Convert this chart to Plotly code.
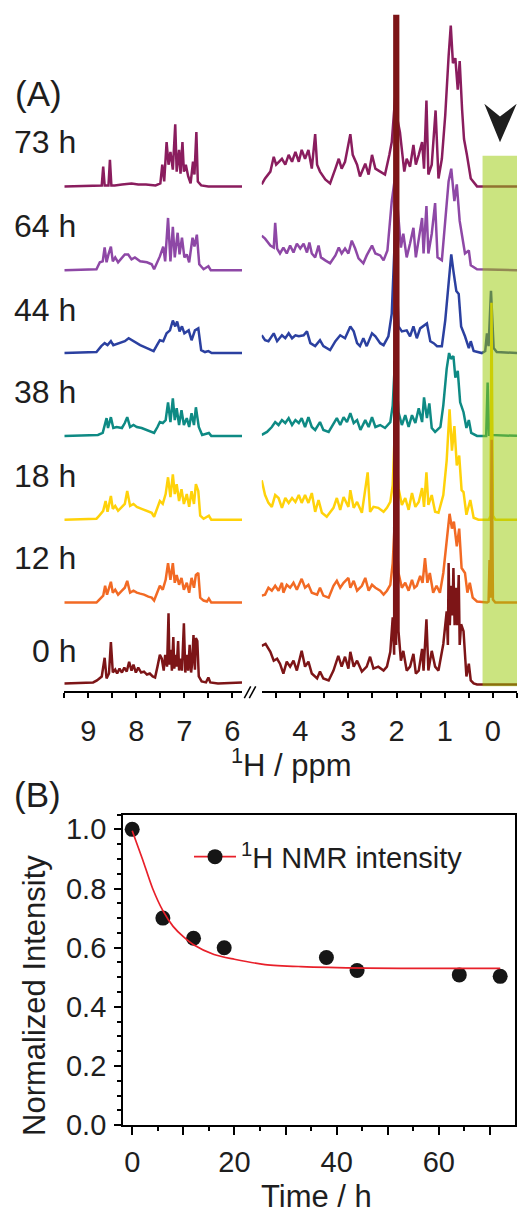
import plotly.graph_objects as go

W, H = 519, 1225

# ---------------- data: panel A (stacked 1H NMR spectra) ----------------
labels = ['0 h', '12 h', '18 h', '38 h', '44 h', '64 h', '73 h']
colors = ['#7d1517', '#f26a24', '#ffd20a', '#0e8a84', '#2b40a0', '#8e48a6', '#8a1d5e']
offsets = [0, 83, 167, 252, 336, 420, 505]  # vertical stacking of the traces

# (ppm, intensity), aromatic window 9.5-5.8 ppm
aro_0h = [(9.5,1),(8.9,2),(8.82,4),(8.72,8),(8.66,27),(8.62,6),(8.57,11),(8.53,43),(8.49,12),(8.44,15),(8.4,11),(8.35,16),(8.3,12),(8.25,17),(8.2,13),(8.15,23),(8.1,14),(8.06,20),(8.01,12),(7.96,17),(7.9,12),(7.84,13),(7.78,10),(7.72,11),(7.66,8),(7.61,7),(7.56,18),(7.51,30),(7.47,26),(7.43,14),(7.4,30),(7.36,18),(7.33,72),(7.31,20),(7.28,35),(7.26,14),(7.23,48),(7.21,16),(7.18,30),(7.16,18),(7.13,44),(7.11,14),(7.08,26),(7.05,14),(7.01,62),(6.98,12),(6.95,30),(6.92,14),(6.89,40),(6.86,12),(6.84,20),(6.81,50),(6.78,15),(6.76,47),(6.73,44),(6.7,8),(6.64,3),(6.55,2),(6.5,7),(6.46,2),(6.3,1),(5.8,2)]
aro_12h = [(9.5,0),(8.83,0),(8.79,2),(8.69,7),(8.65,17),(8.61,8),(8.53,21),(8.49,10),(8.44,13),(8.38,8),(8.3,12),(8.24,15),(8.19,22),(8.13,10),(8.06,12),(7.99,10),(7.92,9),(7.84,8),(7.75,6),(7.68,5),(7.63,2),(7.56,10),(7.51,17),(7.45,13),(7.39,23),(7.34,40),(7.29,23),(7.24,40),(7.2,20),(7.16,28),(7.11,18),(7.06,25),(7.01,13),(6.95,20),(6.9,10),(6.85,25),(6.8,15),(6.76,28),(6.71,30),(6.67,5),(6.6,2),(6.53,1),(6.49,4),(6.44,0),(5.8,0)]
aro_18h = [(9.5,0),(8.83,1),(8.79,3),(8.69,9),(8.64,19),(8.6,8),(8.53,24),(8.49,11),(8.44,14),(8.38,9),(8.3,13),(8.24,16),(8.19,29),(8.13,14),(8.06,16),(7.99,13),(7.89,11),(7.78,9),(7.68,7),(7.63,3),(7.56,13),(7.51,19),(7.45,16),(7.39,26),(7.34,43),(7.29,23),(7.24,46),(7.2,26),(7.16,36),(7.11,19),(7.06,31),(7.01,16),(6.95,26),(6.9,13),(6.85,29),(6.8,16),(6.76,36),(6.71,29),(6.67,4),(6.6,1),(6.49,4),(6.44,0),(5.8,0)]
aro_38h = [(9.5,0),(8.8,1),(8.7,3),(8.67,9),(8.62,18),(8.59,8),(8.53,19),(8.48,8),(8.41,9),(8.3,8),(8.24,13),(8.19,19),(8.13,9),(8.06,11),(7.99,9),(7.89,8),(7.78,6),(7.68,4),(7.63,3),(7.56,9),(7.51,14),(7.45,13),(7.39,16),(7.34,34),(7.29,14),(7.24,38),(7.2,16),(7.16,28),(7.11,11),(7.06,26),(7.01,11),(6.95,18),(6.9,9),(6.85,23),(6.8,11),(6.76,29),(6.7,9),(6.63,1),(6.49,3),(6.44,0),(5.8,0)]
aro_44h = [(9.5,0),(8.83,1),(8.73,7),(8.66,10),(8.6,8),(8.53,12),(8.48,8),(8.38,10),(8.24,12),(8.16,15),(8.06,12),(7.92,8),(7.78,5),(7.64,2),(7.57,8),(7.51,13),(7.44,12),(7.37,20),(7.3,23),(7.24,33),(7.19,27),(7.15,32),(7.1,22),(7.05,27),(7.0,20),(6.91,23),(6.85,13),(6.78,23),(6.71,25),(6.65,3),(6.57,1),(6.5,2),(6.43,0),(5.8,0)]
aro_64h = [(9.5,0),(8.83,1),(8.76,8),(8.7,9),(8.66,23),(8.62,8),(8.58,16),(8.53,24),(8.49,9),(8.44,13),(8.38,8),(8.3,13),(8.24,16),(8.17,16),(8.1,11),(8.03,13),(7.92,9),(7.78,8),(7.68,6),(7.63,1),(7.56,8),(7.51,14),(7.44,24),(7.4,9),(7.34,53),(7.29,9),(7.24,44),(7.2,13),(7.14,38),(7.1,16),(7.05,33),(7.0,13),(6.95,16),(6.9,8),(6.83,33),(6.79,24),(6.74,36),(6.69,6),(6.6,1),(6.5,4),(6.45,0),(5.8,0)]
aro_73h = [(9.5,0),(8.72,1),(8.69,20),(8.66,1),(8.58,1),(8.55,27),(8.52,1),(8.45,1),(8.3,2),(8.1,3),(7.96,2),(7.8,2),(7.6,1),(7.5,3),(7.46,22),(7.42,5),(7.37,45),(7.33,22),(7.29,35),(7.24,17),(7.19,63),(7.16,15),(7.11,37),(7.08,13),(7.04,45),(7.01,15),(6.97,22),(6.92,10),(6.87,3),(6.82,25),(6.79,12),(6.75,55),(6.72,5),(6.65,1),(6.5,0),(5.8,0)]

# (ppm, intensity) aliphatic window 4.8 to -0.5 ppm
ali_0h = [(4.8,39),(4.72,41),(4.62,33),(4.55,24),(4.48,26),(4.42,21),(4.35,11),(4.28,23),(4.21,18),(4.14,24),(4.07,14),(3.97,34),(3.9,18),(3.83,23),(3.76,11),(3.65,6),(3.59,13),(3.52,6),(3.41,4),(3.31,14),(3.21,29),(3.14,18),(3.07,28),(3.0,16),(2.96,33),(2.89,18),(2.82,24),(2.72,13),(2.62,18),(2.55,28),(2.48,16),(2.38,18),(2.27,14),(2.2,18),(2.13,33),(2.08,68),(2.05,30),(2.035,2000),(2.01,2000),(2.01,40),(2.01,2000),(1.985,2000),(1.96,54),(1.91,24),(1.86,34),(1.79,14),(1.72,18),(1.65,31),(1.6,11),(1.54,14),(1.47,36),(1.44,14),(1.38,66),(1.34,14),(1.27,34),(1.2,18),(1.13,14),(1.03,41),(0.96,74),(0.935,40),(0.92,123),(0.895,60),(0.865,100),(0.84,70),(0.82,118),(0.795,60),(0.77,98),(0.74,60),(0.71,111),(0.69,40),(0.66,61),(0.61,54),(0.55,8),(0.5,21),(0.46,4),(0.4,1),(0.33,0),(-0.5,0)]
ali_12h = [(4.8,7),(4.73,8),(4.66,15),(4.59,12),(4.52,17),(4.45,12),(4.38,20),(4.35,10),(4.28,18),(4.21,15),(4.14,20),(4.07,13),(3.97,24),(3.9,15),(3.83,18),(3.76,10),(3.65,8),(3.59,15),(3.52,7),(3.41,5),(3.31,17),(3.24,22),(3.17,15),(3.1,20),(3.0,25),(2.96,15),(2.89,22),(2.82,12),(2.72,17),(2.65,25),(2.58,12),(2.51,18),(2.44,15),(2.34,12),(2.27,8),(2.2,12),(2.13,18),(2.08,40),(2.03,90),(1.96,30),(1.89,15),(1.82,20),(1.75,12),(1.68,23),(1.63,15),(1.58,17),(1.51,27),(1.46,20),(1.41,45),(1.36,20),(1.31,30),(1.24,10),(1.17,17),(1.1,10),(1.03,30),(0.96,63),(0.9,90),(0.85,75),(0.81,82),(0.75,57),(0.7,75),(0.65,35),(0.58,30),(0.53,10),(0.48,20),(0.42,5),(0.33,1),(0.12,0),(0.09,1),(0.07,43),(0.05,5),(0.025,165),(0.0,3),(-0.05,0),(-0.5,0)]
ali_18h = [(4.8,40),(4.73,25),(4.66,17),(4.59,13),(4.52,25),(4.45,22),(4.38,12),(4.31,22),(4.24,17),(4.17,22),(4.1,18),(4.03,25),(3.97,17),(3.9,25),(3.83,17),(3.76,27),(3.69,8),(3.62,20),(3.55,7),(3.45,3),(3.31,12),(3.24,22),(3.17,10),(3.1,23),(3.0,13),(2.96,30),(2.89,12),(2.82,18),(2.72,7),(2.6,48),(2.55,8),(2.48,13),(2.38,12),(2.27,8),(2.2,12),(2.13,18),(2.08,35),(2.03,100),(1.96,32),(1.89,15),(1.82,22),(1.75,10),(1.68,27),(1.61,13),(1.54,18),(1.47,32),(1.43,13),(1.38,48),(1.34,15),(1.27,25),(1.2,8),(1.13,7),(1.03,25),(0.96,60),(0.9,112),(0.85,70),(0.8,95),(0.75,55),(0.7,65),(0.65,30),(0.61,28),(0.55,5),(0.47,20),(0.4,2),(0.3,0),(0.08,0),(0.05,4),(0.03,220),(0.0,4),(-0.05,0),(-0.5,0)]
ali_38h = [(4.8,1),(4.69,4),(4.59,9),(4.52,14),(4.45,11),(4.38,16),(4.31,13),(4.24,18),(4.17,11),(4.1,16),(4.03,13),(3.97,18),(3.9,9),(3.83,19),(3.76,9),(3.69,6),(3.59,14),(3.52,6),(3.41,4),(3.31,13),(3.24,18),(3.17,11),(3.1,19),(3.03,14),(2.96,23),(2.89,13),(2.82,16),(2.75,6),(2.65,16),(2.58,9),(2.51,19),(2.44,9),(2.34,11),(2.24,8),(2.13,14),(2.08,31),(2.03,80),(1.96,24),(1.89,11),(1.82,21),(1.75,9),(1.68,21),(1.61,13),(1.54,28),(1.47,14),(1.43,39),(1.37,18),(1.32,33),(1.27,8),(1.2,4),(1.09,9),(1.03,31),(0.96,68),(0.91,84),(0.87,78),(0.82,81),(0.78,59),(0.73,66),(0.68,34),(0.61,24),(0.55,8),(0.5,16),(0.45,3),(0.33,0),(0.14,0),(0.11,54),(0.08,1),(-0.5,0)]
ali_44h = [(4.8,18),(4.73,13),(4.66,12),(4.55,20),(4.48,12),(4.38,18),(4.31,15),(4.24,20),(4.17,15),(4.1,18),(4.03,17),(3.93,18),(3.86,22),(3.79,10),(3.69,7),(3.59,13),(3.52,7),(3.38,3),(3.27,12),(3.17,18),(3.07,15),(2.96,27),(2.89,22),(2.82,10),(2.76,7),(2.69,15),(2.62,7),(2.51,20),(2.44,17),(2.34,10),(2.27,8),(2.17,17),(2.1,40),(2.03,124),(1.96,27),(1.89,22),(1.79,23),(1.72,17),(1.65,27),(1.58,15),(1.51,25),(1.44,28),(1.37,30),(1.3,12),(1.23,10),(1.16,7),(1.06,7),(0.99,33),(0.92,70),(0.865,100),(0.82,83),(0.76,63),(0.71,60),(0.66,27),(0.58,17),(0.5,5),(0.46,12),(0.4,2),(0.23,0),(0.16,2),(0.124,20),(0.09,7),(0.04,63),(-0.015,5),(-0.08,1),(-0.5,0)]
ali_64h = [(4.8,35),(4.73,32),(4.62,25),(4.55,23),(4.52,48),(4.48,22),(4.42,17),(4.35,23),(4.28,17),(4.21,25),(4.14,18),(4.07,27),(4.0,22),(3.93,27),(3.86,18),(3.81,28),(3.76,17),(3.69,13),(3.62,25),(3.57,13),(3.48,10),(3.38,7),(3.27,15),(3.2,23),(3.14,17),(3.07,22),(3.0,17),(2.93,30),(2.86,22),(2.79,12),(2.69,7),(2.62,15),(2.51,25),(2.44,17),(2.34,15),(2.27,10),(2.19,20),(2.13,50),(2.1,70),(2.03,95),(1.96,57),(1.91,23),(1.86,37),(1.79,13),(1.72,27),(1.65,43),(1.6,13),(1.54,30),(1.47,53),(1.44,17),(1.38,65),(1.34,17),(1.27,37),(1.2,68),(1.15,13),(1.06,10),(0.99,50),(0.92,90),(0.865,103),(0.8,70),(0.75,87),(0.69,50),(0.64,35),(0.58,17),(0.5,20),(0.46,5),(0.33,1),(-0.5,0)]
ali_73h = [(4.8,2),(4.73,8),(4.62,15),(4.55,30),(4.5,22),(4.45,25),(4.38,28),(4.31,22),(4.24,32),(4.17,25),(4.1,35),(4.03,25),(3.97,37),(3.9,28),(3.83,37),(3.76,18),(3.69,53),(3.65,22),(3.59,15),(3.48,7),(3.38,3),(3.27,18),(3.2,28),(3.14,18),(3.07,25),(2.96,53),(2.91,32),(2.82,22),(2.76,10),(2.65,23),(2.58,12),(2.51,32),(2.44,18),(2.34,15),(2.24,12),(2.15,32),(2.1,45),(2.03,90),(1.99,70),(1.93,55),(1.88,35),(1.84,15),(1.79,28),(1.72,20),(1.65,42),(1.6,22),(1.54,32),(1.47,45),(1.43,18),(1.38,87),(1.34,12),(1.27,22),(1.19,77),(1.13,8),(1.06,28),(0.99,72),(0.92,132),(0.875,163),(0.83,125),(0.78,130),(0.73,98),(0.69,127),(0.64,78),(0.6,48),(0.54,32),(0.49,18),(0.46,8),(0.33,0),(-0.5,0)]

aromatic = [aro_0h, aro_12h, aro_18h, aro_38h, aro_44h, aro_64h, aro_73h]
aliphatic = [ali_0h, ali_12h, ali_18h, ali_38h, ali_44h, ali_64h, ali_73h]

# ---------------- data: panel B ----------------
time_h = [0, 6, 12, 18, 38, 44, 64, 72]
intensity = [1.0, 0.70, 0.632, 0.60, 0.567, 0.523, 0.508, 0.503]
fit_t = [0, 2, 4, 6, 8, 10, 12, 16, 20, 26, 33, 46, 59, 72]
fit_v = [0.995, 0.90, 0.80, 0.725, 0.672, 0.637, 0.61, 0.577, 0.561, 0.543, 0.536, 0.531, 0.53, 0.53]
time_ticks = [0, 10, 20, 30, 40, 50, 60, 70]
time_labels = [0, 20, 40, 60]

FONT = 'Liberation Sans, Arial, sans-serif'
TXT = '#1e1e1e'

def pxx(p):
    return p / W

def pxy(p):
    return 1 - p / H

fig = go.Figure()

for i in range(len(labels) - 1, -1, -1):
    for seg, xa in ((aromatic[i], 'x'), (aliphatic[i], 'x2')):
        fig.add_trace(go.Scatter(
            x=[p for p, _ in seg], y=[v + offsets[i] for _, v in seg],
            mode='lines', line=dict(color=colors[i], width=2.5),
            xaxis=xa, yaxis='y', showlegend=False, hoverinfo='skip'))

fig.add_trace(go.Scatter(x=time_h, y=intensity, mode='markers',
                         marker=dict(size=15, color='#161616'),
                         xaxis='x3', yaxis='y3', showlegend=False))
fig.add_trace(go.Scatter(x=fit_t, y=fit_v, mode='lines',
                         line=dict(color='#e8202a', width=1.7, shape='spline', smoothing=0.8),
                         xaxis='x3', yaxis='y3', showlegend=False))
fig.add_trace(go.Scatter(x=[None], y=[None], mode='lines+markers',
                         marker=dict(size=15, color='#161616'),
                         line=dict(color='#e8202a', width=1.7),
                         name='<sup>1</sup>H NMR intensity',
                         xaxis='x3', yaxis='y3', showlegend=True))

tick_common = dict(showline=True, linecolor='black', ticks='outside', tickcolor='black',
                   showgrid=False, zeroline=False,
                   tickfont=dict(size=29, color=TXT, family=FONT))

fig.update_layout(
    width=W, height=H, margin=dict(l=0, r=0, t=0, b=0),
    paper_bgcolor='white', plot_bgcolor='rgba(0,0,0,0)',
    font=dict(family=FONT, color=TXT),
    xaxis=dict(domain=[pxx(64.3), pxx(242)], range=[9.5, 5.8], anchor='y',
               linewidth=2, ticklen=5, tickwidth=1.5, dtick=1, tick0=0, ticklabelstandoff=8,
               minor=dict(dtick=0.5, tick0=0, ticks='outside', ticklen=5, tickwidth=1.5, tickcolor='black'),
               **tick_common),
    xaxis2=dict(domain=[pxx(261.7), pxx(517)], range=[4.8, -0.5], anchor='y',
                linewidth=2, ticklen=5, tickwidth=1.5, dtick=1, tick0=0, ticklabelstandoff=8,
                minor=dict(dtick=0.5, tick0=0, ticks='outside', ticklen=5, tickwidth=1.5, tickcolor='black'),
                **tick_common),
    yaxis=dict(domain=[pxy(700), pxy(14)], range=[-7, 679], visible=False),
    xaxis3=dict(domain=[pxx(123), pxx(515)], range=[-1.8, 74.9], anchor='y3',
                linewidth=1.8, mirror=True, ticklen=8, tickwidth=1.5,
                tickmode='array', tickvals=time_ticks, showticklabels=False,
                minor=dict(tickmode='array', tickvals=[5, 15, 25, 35, 45, 55, 65],
                           ticks='outside', ticklen=4, tickwidth=1.5, tickcolor='black'),
                **tick_common),
    xaxis4=dict(domain=[pxx(123), pxx(515)], range=[-1.8, 74.9], anchor='y3', overlaying='x3',
                showline=False, showgrid=False, zeroline=False, ticks='outside', ticklen=8,
                tickcolor='rgba(0,0,0,0)', tickmode='array', tickvals=time_labels,
                ticklabelstandoff=3, tickfont=dict(size=29, color=TXT, family=FONT)),
    yaxis3=dict(domain=[pxy(1140), pxy(825)], range=[0, 1.05], anchor='x3',
                linewidth=1.8, mirror=True, ticklen=7, tickwidth=1.5,
                dtick=0.2, tick0=0, tickformat='.1f', ticklabelstandoff=2,
                minor=dict(dtick=0.05, tick0=0, ticks='outside', ticklen=4, tickwidth=1.5, tickcolor='black'),
                **tick_common),
    legend=dict(x=pxx(189), y=pxy(842), xanchor='left', yanchor='top', itemwidth=42,
                bgcolor='rgba(0,0,0,0)', font=dict(size=29, color=TXT, family=FONT)),
)

# invisible anchor trace so the label-only overlay axis is drawn
fig.add_trace(go.Scatter(x=[None], y=[None], xaxis='x4', yaxis='y3', showlegend=False, hoverinfo='skip'))

shapes = [
    # highlighted TMS window
    dict(type='rect', xref='x2', yref='paper', x0=0.215, x1=-0.5, y0=pxy(695), y1=pxy(157),
         fillcolor='rgba(151,201,1,0.5)', line=dict(width=0), layer='above'),
    # arrowhead
    dict(type='path', xref='paper', yref='paper',
         path='M {:.5f},{:.5f} L {:.5f},{:.5f} L {:.5f},{:.5f} L {:.5f},{:.5f} Z'.format(
             pxx(484.3), pxy(104.3), pxx(500), pxy(117), pxx(516.7), pxy(104.3), pxx(500), pxy(143.3)),
         fillcolor='#1e1e1e', line=dict(width=0)),
    # axis break marks
    dict(type='line', xref='paper', yref='paper', x0=pxx(244.3), y0=pxy(707), x1=pxx(250.7), y1=pxy(695),
         line=dict(color='black', width=1.5)),
    dict(type='line', xref='paper', yref='paper', x0=pxx(249.3), y0=pxy(707), x1=pxx(255.7), y1=pxy(695),
         line=dict(color='black', width=1.5)),
]
fig.update_layout(shapes=shapes)

ann = []
label_y = [659, 565, 482, 397, 313, 228, 143]
for lab, yy in zip(labels, label_y):
    ann.append(dict(text=lab, x=pxx(78), y=pxy(yy), xref='paper', yref='paper',
                    xanchor='right', yanchor='middle', showarrow=False,
                    font=dict(size=32, color=TXT, family=FONT)))
ann += [
    dict(text='(A)', x=pxx(13), y=pxy(94), xref='paper', yref='paper', xanchor='left', yanchor='middle',
         showarrow=False, font=dict(size=35, color=TXT, family=FONT)),
    dict(text='(B)', x=pxx(12), y=pxy(805), xref='paper', yref='paper', xanchor='left', yanchor='middle',
         showarrow=False, font=dict(size=35, color=TXT, family=FONT)),
    dict(text='<sup>1</sup>H / ppm', x=pxx(291), y=pxy(773), xref='paper', yref='paper',
         xanchor='center', yanchor='middle', showarrow=False, font=dict(size=31, color=TXT, family=FONT)),
    dict(text='Normalized Intensity', x=pxx(35), y=pxy(1009), xref='paper', yref='paper',
         xanchor='center', yanchor='middle', textangle=-90, showarrow=False,
         font=dict(size=31, color=TXT, family=FONT)),
    dict(text='Time / h', x=pxx(316), y=pxy(1212), xref='paper', yref='paper',
         xanchor='center', yanchor='middle', showarrow=False, font=dict(size=31, color=TXT, family=FONT)),
]
fig.update_layout(annotations=ann)

fig.write_html('out.html', config={'displayModeBar': False},
               post_script="document.body.style.margin='0';document.body.style.overflow='hidden';")
